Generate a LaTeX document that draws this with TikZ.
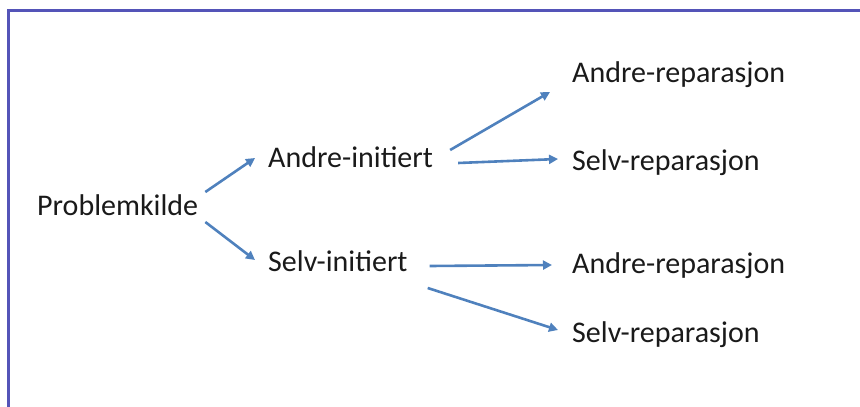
\documentclass[tikz,border=0pt]{standalone}
\usepackage{fontspec}
\setmainfont{Carlito}
\usetikzlibrary{arrows.meta,calc}
\definecolor{framecol}{RGB}{84,84,184}
\definecolor{arrowcol}{RGB}{79,129,189}
\definecolor{textcol}{RGB}{26,26,26}
\tikzset{
  term/.style={anchor=base west, inner sep=0pt, text=textcol,
    font=\fontsize{30}{36}\selectfont},
  link/.style={draw=arrowcol, line width=2.6pt,
    -{Triangle[length=9pt,width=9pt]}},
}
\begin{document}
\begin{tikzpicture}[x=1pt, y=-1pt]
  \useasboundingbox (0,0) rectangle (860,407);
  % open frame: left and top edges
  \draw[framecol, line width=2.2pt] (8.5,407) -- (8.5,10.5) -- (860,10.5);

  % terms
  \node[term] (pk)  at (37,215)  {Problemkilde};
  \node[term] (ai)  at (268,167) {Andre-initiert};
  \node[term] (si)  at (268,271) {Selv-initiert};
  \node[term] (ar1) at (572,82)  {Andre-reparasjon};
  \node[term] (sr1) at (572,170) {Selv-reparasjon};
  \node[term] (ar2) at (572,273) {Andre-reparasjon};
  \node[term] (sr2) at (572,342) {Selv-reparasjon};

  % branches
  \draw[link] ($(pk.base east)+(7,-23)$) -- ($(ai.base west)+(-13,-9)$);
  \draw[link] ($(pk.base east)+(7,7)$)   -- ($(si.base west)+(-13,-11)$);
  \draw[link] ($(ai.base east)+(17,-17)$) -- ($(ar1.base west)+(-22,10)$);
  \draw[link] ($(ai.base east)+(25,-4)$)  -- ($(sr1.base west)+(-14,-11)$);
  \draw[link] ($(si.base east)+(22,-5)$)  -- ($(ar2.base west)+(-20,-8)$);
  \draw[link] ($(si.base east)+(20,17)$)  -- ($(sr2.base west)+(-14,-12)$);
\end{tikzpicture}
\end{document}
